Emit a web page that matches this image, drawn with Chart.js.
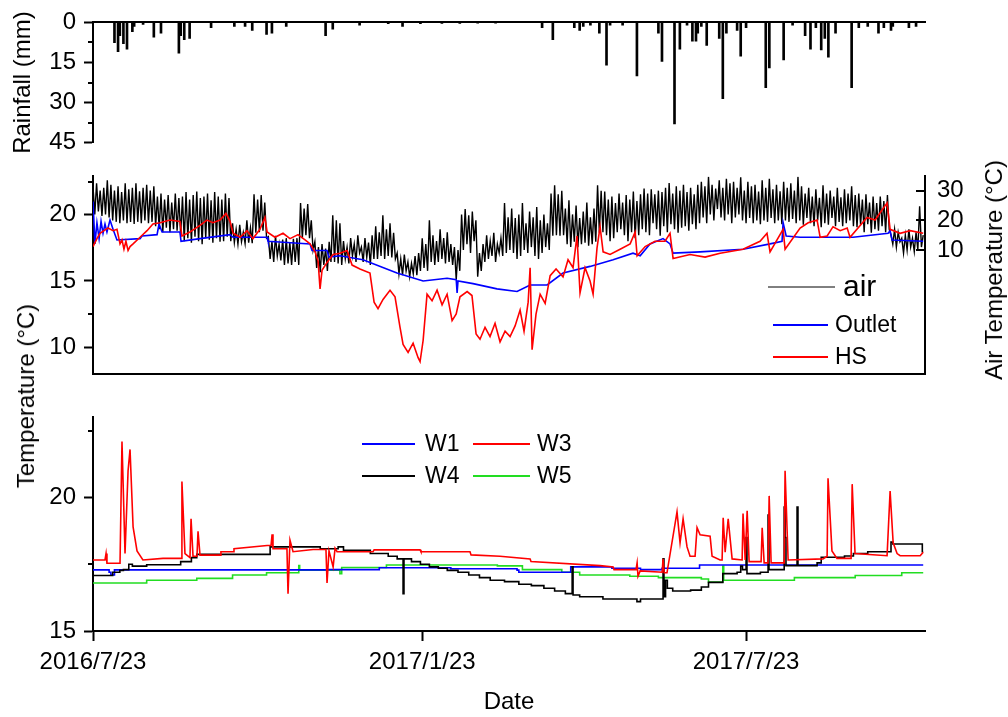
<!DOCTYPE html>
<html>
<head>
<meta charset="utf-8">
<title>Rainfall and temperature</title>
<script src="https://cdn.jsdelivr.net/npm/chart.js@4.4.1/dist/chart.umd.min.js"></script>
<style>
    body { margin: 0; background: #fff; }
    #wrap { position: relative; width: 1008px; height: 717px; overflow: hidden; font-family: 'Liberation Sans', Arial, sans-serif; }
    #wrap canvas { position: absolute; left: 0; }
    .vtitle { position: absolute; white-space: nowrap; font-size: 24px; line-height: 1; color: #000;
              transform: translate(-50%, -50%) rotate(-90deg); }
</style>
</head>
<body>
<div id="wrap">
    <canvas id="rainChart" width="1008" height="165" style="top:0px"></canvas>
    <canvas id="tempChart" width="1008" height="250" style="top:150px"></canvas>
    <canvas id="wellChart" width="1008" height="322" style="top:395px"></canvas>
    <div class="vtitle" style="left:26px; top:396px;">Temperature (°C)</div>
    <div class="vtitle" style="left:994px; top:270px;">Air Temperature (°C)</div>
</div>
<script>
// Days are counted from 2016/7/23
const dayMax = 465;
const dateTickDays = [0, 184, 365];
const dateTickLabels = ['2016/7/23', '2017/1/23', '2017/7/23'];

const rainTicks = [0, 15, 30, 45];
const tempTicks = [10, 15, 20];
const airTicks = [10, 20, 30];
const wellTicks = [15, 20];

// daily rainfall (mm)
const rainDays = [12, 14, 15, 17, 19, 22, 23, 28, 34, 38, 48, 49, 51, 54, 66, 79, 85, 89, 97, 100,
    108, 130, 134, 149, 165, 173, 183, 195, 205, 215, 225, 251, 257, 269, 272, 274, 278, 283, 287, 289,
    296, 304, 316, 318, 325, 328, 332, 335, 337, 338, 340, 343, 350, 352, 354, 360, 362, 365, 376, 378,
    386, 391, 398, 401, 404, 407, 409, 411, 415, 424, 428, 433, 439, 442, 446, 447, 456, 460];
const rainMm = [7.6, 11, 5, 8, 10, 3.5, 1.5, 0.8, 5.5, 4, 11.5, 5, 6.5, 6, 2, 1.5, 1.5, 3, 4.5, 4,
    1.5, 5, 2.5, 1, 0.5, 1.5, 0.5, 0.4, 0.4, 0.3, 0.3, 2, 6.5, 2, 3, 1.5, 1, 4, 16, 1,
    1, 20, 4, 14.6, 38, 10, 1, 7, 7, 4, 1.5, 8.6, 6, 28.6, 4, 3, 12.6, 2, 24.4, 17,
    14, 1, 5, 10, 2, 10.3, 6, 13, 4, 24.4, 2, 1.5, 4, 2, 3, 1.5, 2, 1.5];

// air temperature, one reading per day (alternating daily highs and lows)
const airTemp = [
    31.5, 22, 32.5, 23, 30, 21.5, 31, 22, 33.5, 21,
    32, 20, 30, 19.5, 31.5, 19, 29.5, 20, 32.5, 19,
    30.5, 19.5, 31, 18.8, 32.5, 19.5, 29.8, 19, 31, 20,
    32, 19, 30, 19.5, 31.5, 18, 28, 17, 29, 16,
    27, 17.5, 28.5, 16, 26, 17, 29, 16.5, 27.5, 15,
    28, 13, 29.5, 14, 27, 12.5, 28.5, 14.5, 29.7, 13,
    27.5, 12, 28, 14, 29, 13.5, 26.8, 12.5, 29.5, 14,
    28, 12.8, 27, 13, 29, 14.5, 27.5, 13, 19, 12.5,
    17, 12, 18.5, 12.8, 16, 12.2, 20, 12.5, 17.5, 12.3,
    28.8, 15.8, 27, 16, 28.5, 16.5, 26, 14, 14.5, 7,
    13, 6, 14.8, 8, 12, 6.5, 13.5, 5, 14, 5.5,
    12.5, 5, 13.8, 6, 14, 5, 25.8, 14, 24, 15,
    25.5, 14, 20, 10, 12.8, 4, 11, 2.5, 12, 5,
    10.5, 3, 12.8, 6, 21.7, 6, 20, 5.5, 19, 5,
    13, 7, 11, 5.5, 14, 8, 12, 6, 15, 9,
    11, 6, 14, 7.5, 12.5, 5, 15, 7, 18, 7,
    16, 8, 21.7, 7, 17, 8, 19, 7.5, 15.8, 7,
    9, 2, 7, 1.5, 8.5, 3, 6, 1, 5.5, 2,
    8, 1.5, 9, 3, 14, 4, 12, 3, 20, 6,
    15, 5, 13, 6, 17, 7, 14, 5.5, 16, 6,
    12, 5, 11, 0, 10, 3, 22, 10, 23.8, 12,
    21.7, 9, 23, 13, 20, 1, 9, 3, 12, 6,
    15, 7, 13, 8, 15.8, 6, 12, 9, 14, 8,
    25.8, 9, 21, 10, 24, 9, 20.8, 7, 22, 8,
    25.8, 10, 19, 9, 23, 11, 21, 8, 24.5, 7,
    20, 9, 22, 11, 19, 10, 29, 14.8, 31.8, 15,
    28.8, 14.8, 30, 15, 24, 12, 26.8, 11, 22, 12.8,
    25, 11, 20.8, 12, 23, 12.5, 26, 11.5, 21, 12,
    24, 12.8, 31.8, 15.8, 30, 16, 29.7, 15, 27, 13,
    28, 14, 25.8, 16, 29, 17, 26, 15, 28.5, 13,
    27, 16, 29.7, 14, 26.5, 15, 28.8, 17, 30.7, 16,
    29, 15, 30.5, 19, 28.8, 17, 30, 14.8, 29.5, 18,
    31, 16, 32.6, 18.7, 29, 17, 31.5, 15.8, 30, 17.5,
    32, 18, 29.5, 16.5, 31, 18.7, 28.8, 17, 32, 19,
    33, 21, 31.5, 19, 34.7, 22, 32, 20, 30.7, 23.8,
    33.5, 21, 31, 20, 34, 22, 32.5, 19, 33, 21,
    31, 22, 34.5, 20, 30, 19, 33, 20.8, 31.5, 19,
    32, 20, 29.7, 18.7, 33.5, 20, 31, 19.5, 34, 20.8,
    30.5, 19, 32, 20, 29.8, 18.7, 33, 20, 31, 19.5,
    32.5, 20.5, 30, 19, 34.7, 20, 31.5, 18.5, 29, 20.8,
    31, 19, 28, 18, 30.5, 20, 27.6, 17.7, 31.8, 19,
    29, 18.5, 30, 20.8, 28, 18, 31, 19.5, 27.8, 18,
    30.5, 19, 29, 20, 31.5, 18, 28.5, 17.7, 29, 18.5,
    27, 16, 28.8, 18.7, 26, 15.8, 28, 17, 25.8, 16.5,
    28, 18, 26.5, 16, 28.5, 17, 15, 12, 17, 11,
    16, 12.8, 14, 9, 15, 10, 17, 11, 14, 9.5,
    16, 10, 24.7, 11, 15
];

// outlet water temperature
const outletDays = [0, 1.1, 2.2, 3.4, 4.5, 5.6, 6.7, 7.8, 9.5, 11.2, 13.4, 26.3, 27.4, 35.8, 36.9, 38.6, 48.6, 49.2, 59.8, 76.6,
    78.3, 97.3, 97.8, 108.4, 121.3, 122.4, 130.8, 131.9, 138.1, 150.9, 169.9, 184.5, 197.9, 203, 203.5, 204, 212.4, 225.8, 237, 244.3,
    253.8, 262.7, 277.8, 290.7, 301.8, 305.8, 311.3, 318.6, 322.5, 324.2, 339.3, 363.3, 378.4, 385.1, 385.7, 387.4, 395.2, 424.8, 444.4, 445.5,
    446.6, 464];
const outletTemp = [21.0, 17.8, 19.4, 18.2, 19.5, 18.6, 19.3, 18.7, 19.6, 18.9, 18.1, 18.2, 18.4, 18.5, 19.3, 18.7, 18.7, 18.0, 18.2, 18.5,
    18.3, 18.3, 18.0, 17.9, 17.8, 17.3, 17.3, 16.8, 16.9, 16.6, 15.6, 15.0, 15.2, 15.1, 14.1, 15.0, 14.8, 14.4, 14.2, 14.7,
    14.7, 15.6, 16.1, 16.6, 17.1, 16.9, 17.8, 18.2, 17.8, 17.1, 17.2, 17.4, 17.8, 18.0, 19.4, 18.4, 18.3, 18.3, 18.6, 18.8,
    18.1, 18.0];

// HS temperature
const hsDays = [0, 2.2, 3.9, 6.1, 8.4, 11.2, 13.4, 15.1, 16.2, 17.3, 18.4, 19.6, 20.7, 22.4, 26.3, 30.2, 33.5, 37.5, 43, 48.6,
    49.7, 54.2, 59.8, 63.7, 67, 71, 74.3, 76.6, 78.3, 82.2, 86.1, 89.4, 93.3, 96.1, 97.3, 101.7, 106.2, 110.1, 114.6, 118.5,
    121.3, 124.1, 125.8, 126.9, 128, 130.8, 134.2, 138.1, 142, 144.8, 149.2, 154.8, 157.1, 159.3, 162.1, 166, 168.8, 171.6, 173.3, 176.1,
    178.9, 181.7, 182.8, 184.5, 186.7, 189.5, 192.3, 195.1, 197.9, 200.7, 203, 205.1, 209.1, 211.8, 214.1, 216.3, 219.1, 221.9, 224.7, 227.5,
    230.3, 233.1, 235.9, 238.7, 240.9, 243.2, 244.3, 245.4, 247.6, 249.9, 252.7, 255.5, 258.8, 262.7, 265.5, 268.3, 270.5, 272.2, 275, 277.8,
    279.5, 281.7, 283.4, 285.1, 289, 294.6, 300.2, 303, 304.1, 308.6, 314.1, 319.7, 322.5, 324.2, 333.7, 342.1, 350.5, 363.3, 372.8, 376.7,
    378.4, 385.7, 386.8, 395.2, 399.7, 404.7, 406.4, 410.3, 413.6, 417.6, 421.5, 423.1, 432.6, 437.1, 443.8, 445.5, 451.1, 456.7, 464];
const hsTemp = [17.6, 18.2, 18.6, 18.8, 19.0, 18.8, 18.9, 17.8, 18.1, 17.4, 18.0, 17.3, 17.6, 17.8, 18.3, 18.8, 19.3, 19.4, 19.6, 19.5,
    18.4, 18.7, 19.2, 19.6, 19.4, 19.6, 20.1, 19.5, 18.6, 18.3, 18.8, 18.2, 18.9, 19.8, 18.7, 18.3, 18.6, 18.2, 18.5, 18.1,
    17.8, 17.2, 16.5, 14.4, 15.8, 16.4, 17.0, 17.1, 17.3, 16.2, 15.9, 15.6, 13.4, 12.9, 13.6, 14.3, 13.8, 11.5, 10.2, 9.6,
    10.3, 9.2, 8.9, 10.5, 14.0, 13.5, 14.3, 13.2, 14.0, 12.0, 12.5, 13.8, 14.2, 13.9, 11.0, 10.6, 11.5, 10.8, 11.8, 10.4,
    11.2, 10.8, 11.6, 12.8, 11.2, 13.4, 16.0, 9.8, 12.5, 14.0, 13.3, 15.4, 15.9, 15.3, 16.6, 16.0, 18.4, 14.1, 16.0, 15.0,
    14.0, 17.5, 19.1, 17.2, 17.0, 17.4, 17.8, 18.7, 16.9, 17.6, 18.0, 18.0, 18.6, 16.7, 17.0, 16.8, 17.1, 17.4, 18.0, 18.6,
    17.2, 18.9, 17.4, 19.0, 19.4, 19.6, 18.3, 18.4, 19.1, 18.8, 19.0, 18.3, 19.8, 19.6, 20.9, 18.9, 18.6, 18.8, 18.6];

// well temperatures
const w1Days = [0, 9, 10, 12, 131, 160, 200, 237, 238, 267, 290, 306, 318, 339, 464];
const w1Temp = [17.29, 17.2, 17.1, 17.29, 17.3, 17.37, 17.33, 17.28, 17.2, 17.4, 17.35, 17.3, 17.35, 17.47, 17.47];

const w3Days = [0, 6.7, 7.3, 7.8, 15.1, 16.2, 17.9, 19.6, 20.7, 22.4, 24.6, 27.9, 39.1, 49.2, 49.7, 51.4, 54.2, 54.8, 55.9, 58.1,
    58.7, 59.8, 71, 71.5, 78.3, 78.8, 97.3, 99.5, 100.1, 100.6, 108.4, 109, 110.1, 111.8, 123, 130.2, 130.8, 131.9, 134.2, 135.3,
    136.4, 156.5, 157.1, 182.8, 183.3, 210.7, 211.3, 227.5, 244.3, 244.8, 283.4, 290.7, 291.2, 303.5, 304.1, 304.6, 305.8, 318.1, 318.6, 319.2,
    320.8, 326.4, 328.1, 329.8, 332, 333.7, 336.5, 337.6, 339.3, 344.9, 346, 350.5, 351.6, 352.2, 353.3, 355, 357.2, 362.8, 363.3, 364.5,
    365.6, 366.7, 373.4, 374, 375.1, 377.3, 377.9, 379, 386.3, 386.8, 388.5, 408, 410.3, 410.8, 413, 415.8, 423.7, 424.3, 425.9, 443.8,
    445.5, 447.2, 449.4, 451.1, 462.3, 464];
const w3Temp = [17.66, 17.66, 17.9, 17.54, 17.54, 22.1, 17.9, 21.0, 21.8, 18.9, 18.0, 17.66, 17.72, 17.72, 20.6, 17.9, 17.75, 19.2, 17.8, 17.8,
    18.73, 17.84, 17.84, 17.97, 17.97, 18.08, 18.2, 18.2, 18.62, 18.08, 18.08, 16.4, 18.4, 17.97, 18.05, 18.05, 16.8, 18.0, 17.4, 18.1,
    17.97, 17.97, 18.04, 18.04, 17.97, 17.97, 17.85, 17.8, 17.7, 17.6, 17.45, 17.4, 17.3, 17.3, 17.55, 17.05, 17.25, 17.2, 17.7, 17.18,
    17.18, 19.46, 18.3, 19.2, 18.15, 17.8, 17.8, 18.87, 18.6, 18.55, 17.8, 17.66, 17.66, 19.24, 17.95, 19.2, 17.7, 17.66, 19.4, 17.66,
    19.5, 17.6, 17.6, 18.87, 17.55, 17.55, 20.06, 17.55, 17.55, 21.0, 17.66, 17.7, 17.8, 20.72, 18.0, 17.72, 17.72, 20.5, 17.9, 17.82,
    20.24, 18.3, 17.9, 17.82, 17.82, 17.95];

const w4Days = [0, 11, 15, 17, 20, 22, 30, 49, 55, 58, 99, 127, 137, 140, 155, 165, 170, 173.3, 173.8, 178,
    183, 188, 193, 198, 204, 210, 216, 222, 230, 238, 245, 252, 258, 264, 267.8, 268.3, 272, 285, 304, 306,
    318.6, 319.1, 320, 321, 324, 334, 340, 344, 352, 360, 362, 363, 365, 365.5, 373, 377.3, 377.8, 386.3, 386.8, 387.3,
    393.5, 394, 404.7, 407, 420, 425, 433, 446, 447, 463.5, 464];
const w4Temp = [17.08, 17.2, 17.27, 17.3, 17.5, 17.43, 17.48, 17.6, 17.75, 17.87, 18.15, 18.08, 18.15, 18.02, 17.9, 17.8, 17.7, 16.4, 17.7, 17.6,
    17.5, 17.4, 17.35, 17.27, 17.2, 17.1, 17.0, 16.9, 16.85, 16.75, 16.7, 16.6, 16.5, 16.4, 17.4, 16.35, 16.28, 16.2, 16.1, 16.2,
    17.7, 16.28, 16.9, 16.6, 16.5, 16.53, 16.65, 16.82, 17.15, 17.2, 17.43, 17.3, 18.5, 17.15, 17.2, 19.34, 17.3, 19.64, 18.5, 17.45,
    19.64, 17.45, 17.55, 17.76, 17.81, 17.9, 17.97, 18.33, 18.26, 17.97, 17.97];

const w5Days = [0, 30, 58, 78, 97, 115, 115.5, 138, 139, 164, 226, 240, 262, 272, 300, 316, 340, 344, 352, 352.5, 392, 426, 452, 464];
const w5Temp = [16.8, 16.9, 16.97, 17.1, 17.18, 17.45, 17.28, 17.15, 17.38, 17.47, 17.44, 17.3, 17.2, 17.1, 17.05, 17.0, 16.95, 16.83, 17.43, 16.9, 17.0, 17.08, 17.18, 17.18];

const FONT = "'Liberation Sans', Arial, sans-serif";
Chart.defaults.font.family = FONT;
Chart.defaults.color = '#000';

function pairs(xs, ys) {
    return xs.map((x, i) => ({ x: x, y: ys[i] }));
}

const axisBorder = { display: true, width: 2, color: '#000' };
const leftGrid = { display: true, drawOnChartArea: false, drawTicks: true, tickLength: 9, tickWidth: 2, tickColor: '#000' };

// short minor ticks, inner ticks and the in-plot legends
const axisExtras = {
    id: 'axisExtras',
    afterDraw(chart, args, opts) {
        const ctx = chart.ctx;
        ctx.save();
        ctx.strokeStyle = '#000';
        ctx.lineWidth = 2;
        (opts.minorTicks || []).forEach(m => {
            const scale = chart.scales[m.axis];
            m.values.forEach(v => {
                const y = Math.round(scale.getPixelForValue(v));
                const x0 = m.inside ? scale.left : scale.right;
                const x1 = m.inside ? scale.left - m.length : scale.right - m.length;
                ctx.beginPath();
                ctx.moveTo(x0, y);
                ctx.lineTo(x1, y);
                ctx.stroke();
            });
        });
        (opts.legendItems || []).forEach(item => {
            const ds = chart.data.datasets[item.index];
            ctx.strokeStyle = ds.borderColor;
            ctx.lineWidth = item.lineWidth;
            ctx.beginPath();
            ctx.moveTo(item.x1, item.y);
            ctx.lineTo(item.x2, item.y);
            ctx.stroke();
            ctx.fillStyle = '#000';
            ctx.font = item.size + 'px ' + FONT;
            ctx.textBaseline = 'middle';
            ctx.textAlign = 'left';
            ctx.fillText(ds.label, item.textX, item.y + 1);
        });
        ctx.restore();
    }
};
Chart.register(axisExtras);

function hiddenDateAxis(position) {
    return {
        type: 'linear', position: position, min: 0, max: dayMax, offset: false,
        ticks: { display: false },
        grid: { display: false, drawTicks: false },
        border: axisBorder,
        afterFit: s => { s.height = 0; }
    };
}

function initRainChart() {
    const ctx = document.getElementById('rainChart');
    new Chart(ctx, {
        type: 'bar',
        data: {
            datasets: [{
                label: 'Rainfall',
                data: pairs(rainDays, rainMm),
                backgroundColor: '#000',
                borderWidth: 0,
                barThickness: 2
            }]
        },
        options: {
            responsive: false,
            animation: false,
            events: [],
            layout: { padding: { top: 17, bottom: 13, left: 0, right: 83 } },
            plugins: {
                legend: { display: false },
                tooltip: { enabled: false },
                axisExtras: { minorTicks: [{ axis: 'y', values: [7.5, 22.5, 37.5], length: 5 }] }
            },
            scales: {
                x: hiddenDateAxis('top'),
                y: {
                    reverse: true, min: 0, max: 45,
                    afterBuildTicks: s => { s.ticks = rainTicks.map(v => ({ value: v })); },
                    ticks: { font: { size: 24 }, padding: 8 },
                    grid: leftGrid,
                    border: axisBorder,
                    title: { display: true, text: 'Rainfall (mm)', font: { size: 24 }, padding: { top: 9, bottom: 0 } },
                    afterFit: s => { s.width = 93; }
                }
            }
        }
    });
}

function initTempChart() {
    const ctx = document.getElementById('tempChart');
    new Chart(ctx, {
        type: 'line',
        data: {
            datasets: [
                { label: 'air', data: airTemp.map((v, i) => ({ x: i, y: v })), yAxisID: 'y2',
                  borderColor: '#000', borderWidth: 1.4, order: 3 },
                { label: 'Outlet', data: pairs(outletDays, outletTemp), yAxisID: 'y',
                  borderColor: '#0000ff', borderWidth: 1.6, order: 2 },
                { label: 'HS', data: pairs(hsDays, hsTemp), yAxisID: 'y',
                  borderColor: '#ff0000', borderWidth: 1.6, order: 1 }
            ]
        },
        options: {
            responsive: false,
            animation: false,
            events: [],
            elements: { point: { radius: 0 }, line: { tension: 0 } },
            layout: { padding: { top: 13, bottom: 13, left: 0, right: 0 } },
            plugins: {
                legend: { display: false },
                tooltip: { enabled: false },
                axisExtras: {
                    minorTicks: [
                        { axis: 'y', values: [12.5, 22.5], length: 5 },
                        { axis: 'y2', values: [10, 20, 30], length: 9, inside: true }
                    ],
                    legendItems: [
                        { index: 0, x1: 768, x2: 835, textX: 843, y: 137, lineWidth: 1, size: 30 },
                        { index: 1, x1: 773, x2: 828, textX: 835, y: 175, lineWidth: 2, size: 23 },
                        { index: 2, x1: 773, x2: 828, textX: 835, y: 207, lineWidth: 2, size: 23 }
                    ]
                }
            },
            scales: {
                x: hiddenDateAxis('bottom'),
                y: {
                    position: 'left', min: 8, max: 22.9,
                    afterBuildTicks: s => { s.ticks = tempTicks.map(v => ({ value: v })); },
                    ticks: { font: { size: 24 }, padding: 8 },
                    grid: leftGrid,
                    border: axisBorder,
                    afterFit: s => { s.width = 93; }
                },
                y2: {
                    position: 'right', min: -31.6, max: 34.8,
                    afterBuildTicks: s => { s.ticks = airTicks.map(v => ({ value: v })); },
                    ticks: { font: { size: 24 }, padding: 12 },
                    grid: { display: false, drawTicks: false },
                    border: axisBorder,
                    afterFit: s => { s.width = 83; }
                }
            }
        }
    });
}

function initWellChart() {
    const ctx = document.getElementById('wellChart');
    new Chart(ctx, {
        type: 'line',
        data: {
            datasets: [
                { label: 'W1', data: pairs(w1Days, w1Temp), borderColor: '#0000ff', borderWidth: 1.6, stepped: true, order: 3 },
                { label: 'W3', data: pairs(w3Days, w3Temp), borderColor: '#ff0000', borderWidth: 1.6, order: 1 },
                { label: 'W4', data: pairs(w4Days, w4Temp), borderColor: '#000000', borderWidth: 1.6, stepped: true, order: 2 },
                { label: 'W5', data: pairs(w5Days, w5Temp), borderColor: '#22dd22', borderWidth: 1.6, stepped: true, order: 4 }
            ]
        },
        options: {
            responsive: false,
            animation: false,
            events: [],
            elements: { point: { radius: 0 }, line: { tension: 0 } },
            layout: { padding: { top: 13, bottom: 0, left: 0, right: 83 } },
            plugins: {
                legend: { display: false },
                tooltip: { enabled: false },
                axisExtras: {
                    minorTicks: [{ axis: 'y', values: [17.5, 22.5], length: 5 }],
                    legendItems: [
                        { index: 0, x1: 362, x2: 415, textX: 425, y: 49, lineWidth: 2, size: 23 },
                        { index: 1, x1: 473, x2: 530, textX: 537, y: 49, lineWidth: 2, size: 23 },
                        { index: 2, x1: 362, x2: 415, textX: 425, y: 81, lineWidth: 2, size: 23 },
                        { index: 3, x1: 473, x2: 530, textX: 537, y: 81, lineWidth: 2, size: 23 }
                    ]
                }
            },
            scales: {
                x: {
                    type: 'linear', position: 'bottom', min: 0, max: dayMax, offset: false,
                    afterBuildTicks: s => { s.ticks = dateTickDays.map(v => ({ value: v })); },
                    ticks: {
                        font: { size: 24 }, padding: 7, autoSkip: false, maxRotation: 0,
                        callback: v => dateTickLabels[dateTickDays.indexOf(v)]
                    },
                    grid: { display: true, drawOnChartArea: false, drawTicks: true, tickLength: 10, tickWidth: 2, tickColor: '#000' },
                    border: axisBorder,
                    title: { display: true, text: 'Date', font: { size: 24 }, padding: { top: 0, bottom: 0 } },
                    afterFit: s => { s.height = 86; }
                },
                y: {
                    min: 15, max: 23,
                    afterBuildTicks: s => { s.ticks = wellTicks.map(v => ({ value: v })); },
                    ticks: { font: { size: 24 }, padding: 8 },
                    grid: leftGrid,
                    border: axisBorder,
                    afterFit: s => { s.width = 93; }
                }
            }
        }
    });
}

document.addEventListener('DOMContentLoaded', function() {
    initRainChart();
    initTempChart();
    initWellChart();
});
</script>
</body>
</html>
